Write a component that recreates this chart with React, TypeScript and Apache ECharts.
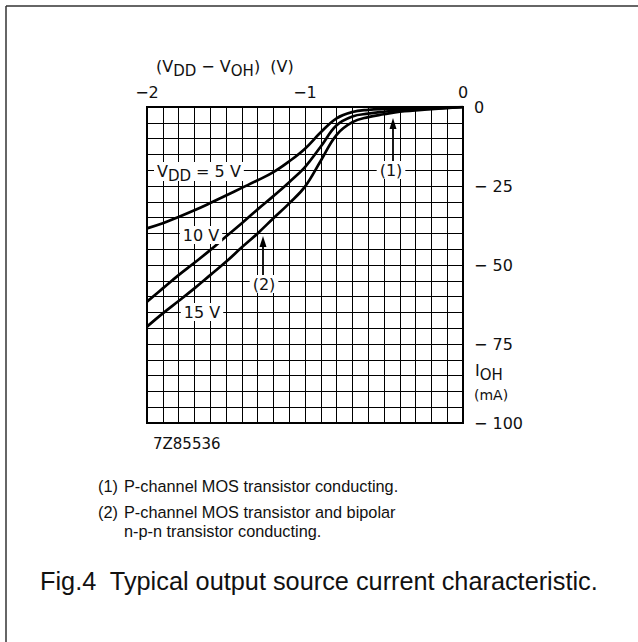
import React, { useEffect, useRef } from "react";
import * as echarts from "echarts";

// (VDD - VOH) in volts
const voltages = [-2.0, -1.9, -1.8, -1.7, -1.6, -1.5, -1.4, -1.3, -1.2, -1.1, -1.0, -0.9, -0.8, -0.7, -0.6, -0.5, -0.4, -0.2, 0];
// IOH in mA for each VDD
const iout5V = [-38.4, -36.8, -34.8, -32.7, -30.4, -28.0, -25.6, -23.2, -20.6, -17.2, -13.2, -8.0, -3.6, -1.6, -0.9, -0.6, -0.45, -0.2, 0];
const iout10V = [-61.6, -57.4, -53.2, -49.3, -45.3, -41.0, -36.8, -32.4, -28.2, -23.8, -19.0, -12.5, -5.8, -3.0, -2.1, -1.5, -1.0, -0.5, 0];
const iout15V = [-69.5, -65.3, -61.4, -57.4, -53.2, -49.0, -44.4, -40.0, -35.2, -30.5, -25.2, -17.0, -8.8, -4.8, -3.2, -2.3, -1.5, -0.7, 0];

const xLabelValues = [-2, -1, 0];
const yLabelValues = [0, -25, -50, -75, -100];

const FONT = "DejaVu Sans";
const SANS = "Liberation Sans";
const INK = "#111";

const GL = 147, GT = 107, GW = 316, GH = 316;

function minusLabel(v: number, gap: string) {
  return v === 0 ? "0" : "\u2212" + gap + Math.abs(v);
}

function arrow(x: number, y0: number, tip: number) {
  return [
    { type: "line", z: 110, shape: { x1: x, y1: y0, x2: x, y2: tip + 8 }, style: { stroke: "#000", lineWidth: 1.8 } },
    { type: "polygon", z: 110, shape: { points: [[x, tip], [x - 3.5, tip + 11], [x + 3.5, tip + 11]] }, style: { fill: "#000" } },
  ];
}

function label(text: string, x: number, y: number) {
  return {
    type: "text",
    z: 105,
    x,
    y,
    style: {
      text,
      fontFamily: FONT,
      fontSize: 16,
      fill: INK,
      align: "center",
      verticalAlign: "middle",
      backgroundColor: "#fff",
      padding: [1, 3, 1, 3],
    },
  };
}

function note(text: string, x: number, y: number) {
  return { type: "text", z: 105, x, y, style: { text, fontFamily: SANS, fontSize: 16.3, fill: INK, verticalAlign: "middle" } };
}

export default function App() {
  const ref = useRef<HTMLDivElement>(null);
  useEffect(() => {
    document.body.style.margin = "0";
    const chart = echarts.init(ref.current!, undefined, { renderer: "svg" });
    const mk = (ys: number[]) => voltages.map((v, i) => [v, ys[i]]);
    const lineSeries = (name: string, ys: number[]) => ({
      name,
      type: "line",
      data: mk(ys),
      smooth: 0.4,
      symbol: "none",
      lineStyle: { color: "#000", width: 2.7 },
      z: 5,
    });
    const subRich = {
      n: { fontFamily: FONT, fontSize: 16, fill: INK, verticalAlign: "top", lineHeight: 18 },
      s: { fontFamily: FONT, fontSize: 15, fill: INK, verticalAlign: "top", lineHeight: 18, padding: [5, 0, 0, 0] },
    };
    chart.setOption({
      animation: false,
      backgroundColor: "#fff",
      grid: { left: GL, top: GT, width: GW, height: GH, show: true, borderColor: "#000", borderWidth: 2 },
      xAxis: {
        type: "value",
        position: "top",
        min: -2,
        max: 0,
        interval: 0.1,
        axisLine: { show: true, lineStyle: { color: "#000", width: 2 } },
        axisTick: { show: false },
        splitLine: { show: true, lineStyle: { color: "#000", width: 1 } },
        axisLabel: {
          margin: 7,
          fontFamily: FONT,
          fontSize: 16,
          color: INK,
          formatter: (v: number) => {
            const r = Math.round(v * 10) / 10;
            return xLabelValues.some((l) => Math.abs(l - r) < 1e-6) ? minusLabel(r, "") : "";
          },
        },
      },
      yAxis: {
        type: "value",
        position: "right",
        min: -100,
        max: 0,
        interval: 5,
        axisLine: { show: true, lineStyle: { color: "#000", width: 2 } },
        axisTick: { show: false },
        splitLine: { show: true, lineStyle: { color: "#000", width: 1 } },
        axisLabel: {
          margin: 11,
          fontFamily: FONT,
          fontSize: 16,
          color: INK,
          formatter: (v: number) => {
            const r = Math.round(v);
            return yLabelValues.indexOf(r) >= 0 ? minusLabel(r, " ") : "";
          },
        },
      },
      series: [lineSeries("5 V", iout5V), lineSeries("10 V", iout10V), lineSeries("15 V", iout15V)],
      graphic: [
        { type: "line", z: 1, shape: { x1: 6, y1: 6, x2: 700, y2: 6 }, style: { stroke: "#333", lineWidth: 1.5 } },
        { type: "line", z: 1, shape: { x1: 6, y1: 6, x2: 6, y2: 700 }, style: { stroke: "#333", lineWidth: 1.5 } },
        {
          type: "text",
          z: 105,
          x: 156,
          y: 58,
          style: { text: "{n|(V}{s|DD}{n| \u2212 V}{s|OH}{n|)  (V)}", rich: subRich, fontFamily: FONT, fontSize: 16, fill: INK },
        },
        {
          type: "text",
          z: 105,
          x: 154,
          y: 162,
          style: {
            text: "{n|V}{s|DD}{n| = 5 V}",
            rich: subRich,
            fontFamily: FONT,
            fontSize: 16,
            fill: INK,
            backgroundColor: "#fff",
            padding: [1, 3, 0, 3],
          },
        },
        label("10 V", 201, 235),
        label("15 V", 202, 312),
        label("(1)", 391, 170),
        label("(2)", 264, 284),
        ...arrow(393, 161, 118),
        ...arrow(263, 275, 236),
        {
          type: "text",
          z: 105,
          x: 475,
          y: 362,
          style: { text: "{n|I}{s|OH}", rich: subRich, fontFamily: FONT, fontSize: 16, fill: INK },
        },
        { type: "text", z: 105, x: 474, y: 395, style: { text: "(mA)", fontFamily: FONT, fontSize: 14, fill: INK, verticalAlign: "middle" } },
        { type: "text", z: 105, x: 153, y: 444, style: { text: "7Z85536", fontFamily: FONT, fontSize: 15, fill: INK, verticalAlign: "middle" } },
        note("(1)", 98, 486),
        note("P-channel MOS transistor conducting.", 124, 486),
        note("(2)", 98, 512),
        note("P-channel MOS transistor and bipolar", 124, 512),
        note("n-p-n transistor conducting.", 124, 531),
        { type: "text", z: 105, x: 40, y: 581, style: { text: "Fig.4  Typical output source current characteristic.", fontFamily: SANS, fontSize: 25.3, fill: INK, verticalAlign: "middle" } },
      ],
    });
    return () => chart.dispose();
  }, []);
  return <div ref={ref} style={{ width: 638, height: 642 }} />;
}
